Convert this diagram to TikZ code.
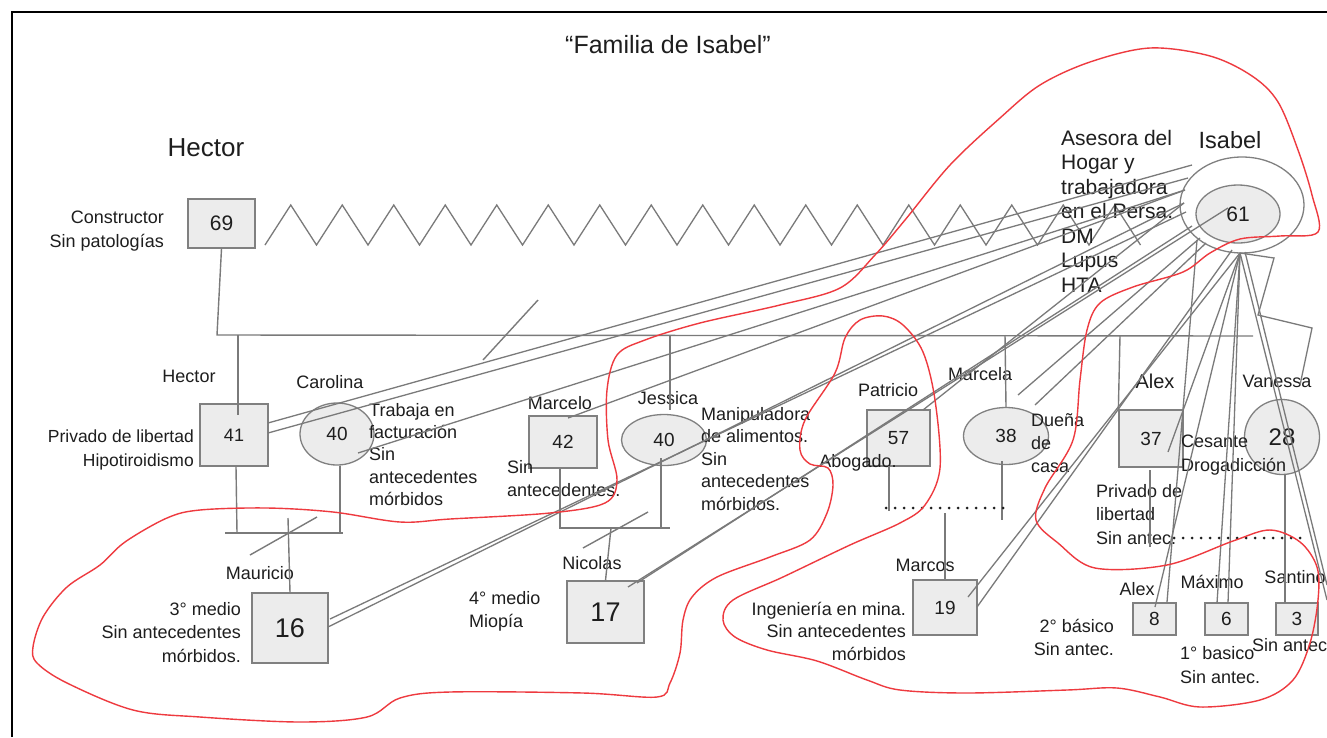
\documentclass[tikz,border=0pt]{standalone}
\usepackage{fontspec}
\setmainfont{Liberation Sans}
\usetikzlibrary{shapes.geometric}
\definecolor{lg}{HTML}{7A7A7A}
\definecolor{bg}{HTML}{808080}
\definecolor{bf}{HTML}{ECECEC}
\definecolor{tc}{HTML}{1E1E1E}
\definecolor{rc}{HTML}{EE3A3F}
\newcommand\myfs[2]{\fontsize{#1}{#2}\selectfont}
\begin{document}
\begin{tikzpicture}[x=1pt,y=-1pt,
  gl/.style={draw=lg,line width=1.3pt},
  sl/.style={draw=lg,line width=1.4pt},
  pbox/.style={draw=bg,fill=bf,line width=1.3pt,inner sep=0pt,text=tc,font=\myfs{19}{23}},
  pell/.style={pbox,ellipse},
  txt/.style={inner sep=0pt,text=tc,font=\myfs{18}{23}},
  dotl/.style={draw=tc,line width=3pt,dash pattern=on 0pt off 9pt,line cap=round},
  redl/.style={draw=rc,line width=1.4pt},
]
\useasboundingbox (0,0) rectangle (1327,737);
\fill[white] (0,0) rectangle (1327,737);
% frame
\draw[black,line width=2pt] (12,737) -- (12,12) -- (1327,12);

% zigzag (conflictive relation)
\draw[gl] (265,245) \foreach \k in {0,...,16}{ -- ({265+51.5*\k+25.75},205) -- ({265+51.5*(\k+1)},245)};

% ---------- persons ----------
\node[pbox,minimum width=67,minimum height=49,font=\myfs{21}{24}] (p69) at (221.5,223.5) {69};
\node[draw=bg,ellipse,line width=1.3pt,minimum width=124,minimum height=96] (iso) at (1242,205) {};
\node[pell,minimum width=84,minimum height=58,font=\myfs{21}{24}] (p61) at (1238,214) {61};
\node[pbox,minimum width=68,minimum height=62,font=\myfs{18}{23}] (p41) at (234,435) {41};
\node[pell,minimum width=74,minimum height=62] (p40c) at (337,434) {40};
\node[pbox,minimum width=76,minimum height=70,font=\myfs{27}{30}] (p16) at (290,628) {16};
\node[pbox,minimum width=68,minimum height=52] (p42) at (563,442) {42};
\node[pell,minimum width=85,minimum height=51] (p40j) at (664,440) {40};
\node[pbox,minimum width=77,minimum height=62,font=\myfs{27}{30}] (p17) at (605.5,612) {17};
\node[pbox,minimum width=63,minimum height=56] (p57) at (898.5,438) {57};
\node[pell,minimum width=85,minimum height=57] (p38) at (1006,436) {38};
\node[pbox,minimum width=64,minimum height=55] (p19) at (945,607.5) {19};
\node[pbox,minimum width=64,minimum height=57] (p37) at (1151,438.5) {37};
\node[pbox,circle,minimum size=75,font=\myfs{24}{28}] (p28) at (1282,437) {28};
\node[pbox,minimum width=43,minimum height=32] (p8) at (1154.5,619) {8};
\node[pbox,minimum width=43,minimum height=32] (p6) at (1226.5,619) {6};
\node[pbox,minimum width=42,minimum height=32] (p3) at (1297,619) {3};

% ---------- texts ----------
\node[txt,font=\myfs{25}{28}] (title) at (668,45) {“Familia de Isabel”};
\node[txt,font=\myfs{26}{30}] (hec) at (206,148) {Hector};
\node[txt,align=right,anchor=north east,font=\myfs{18}{24}] (t69) at (164,211) {Constructor\\Sin patologías};
\node[txt,font=\myfs{23.5}{28}] (isa) at (1230,140) {Isabel};
\node[txt,font=\myfs{21}{24.5},align=left,anchor=north west] (t61) at (1061,130) {Asesora del\\Hogar y\\trabajadora\\en el Persa.\\DM\\Lupus\\HTA};

\node[txt] (n41) at (189,376) {Hector};
\node[txt,align=right,anchor=north east,font=\myfs{17.5}{24}] (t41) at (194,430) {Privado de libertad\\Hipotiroidismo};
\node[txt] (ncar) at (330,382) {Carolina};
\node[txt,align=left,anchor=north west,font=\myfs{18}{22.3}] (tcar) at (369,403) {Trabaja en\\facturación\\Sin\\antecedentes\\mórbidos};
\node[txt] (nmau) at (260,573) {Mauricio};
\node[txt,align=right,anchor=north east,font=\myfs{18}{23.5}] (tmau) at (241,602) {3° medio\\Sin antecedentes\\mórbidos.};
\node[txt] (nmar) at (560,403) {Marcelo};
\node[txt,align=left,anchor=north west] (tmar) at (507,460) {Sin\\antecedentes.};
\node[txt] (njes) at (668,398) {Jessica};
\node[txt,align=left,anchor=north west,font=\myfs{18}{22.5}] (tjes) at (701,407) {Manipuladora\\de alimentos.\\Sin\\antecedentes\\mórbidos.};
\node[txt] (nnic) at (592,563) {Nicolas};
\node[txt,align=left,anchor=north west] (tnic) at (469,591) {4° medio\\Miopía};
\node[txt] (npat) at (888,390) {Patricio};
\node[txt] (tpat) at (858,463) {Abogado.};
\node[txt] (nmcl) at (980,374) {Marcela};
\node[txt,align=left,anchor=north west] (tmcl) at (1031,413) {Dueña\\de\\casa};
\node[txt] (nmcs) at (925,565) {Marcos};
\node[txt,align=right,anchor=north east,font=\myfs{18}{22.5}] (tmcs) at (906,602) {Ingeniería en mina.\\Sin antecedentes\\mórbidos};
\node[txt,font=\myfs{20}{24}] (nalx) at (1155,381) {Alex};
\node[txt,align=left,anchor=north west,font=\myfs{18}{24}] (talx1) at (1181,435) {Cesante\\Drogadicción};
\node[txt,align=left,anchor=north west,font=\myfs{18}{23.5}] (talx2) at (1096,484) {Privado de\\libertad\\Sin antec.};
\node[txt] (nvan) at (1277,381) {Vanessa};
\node[txt] (nal8) at (1137,589) {Alex};
\node[txt,align=right,anchor=north east] (tal8) at (1114,619) {2° básico\\Sin antec.};
\node[txt] (nmax) at (1212,582) {Máximo};
\node[txt,align=left,anchor=north west,font=\myfs{18}{24}] (tmax) at (1180,646) {1° basico\\Sin antec.};
\node[txt] (nsan) at (1295,577) {Santino};
\node[txt,anchor=west] (tsan) at (1252,645) {Sin antec};

% ---------- structural lines ----------
\coordinate (hc) at (217,335);
\coordinate (hr) at (1253,336);
\draw[sl] (p69.south) -- (hc) -- (hr);
\coordinate (d1t) at (238,335); \coordinate (d1b) at (238,415);
\coordinate (d2t) at (670,335); \coordinate (d2b) at (670,410);
\coordinate (d4t) at (1120,336);
\draw[sl] (d1t) -- (d1b);
\draw[sl] (d2t) -- (d2b);
\draw[sl] (1005,335) -- (p38.north);
\draw[sl] (d4t) -- (p37.north west);
\coordinate (sl1) at (483,360); \coordinate (sl2) at (538,300);
\draw[sl] (sl1) -- (sl2);

% Hector 41 - Carolina
\coordinate (m1a) at (237,533); \coordinate (m1b) at (340,533);
\coordinate (m1l) at (225,533); \coordinate (m1r) at (343,533);
\coordinate (m1c) at (288,518);
\draw[sl] (p41.south) ++(2,0) -- (m1a);
\draw[sl] (p40c.south) ++(3,0) -- (m1b);
\draw[sl] (m1l) -- (m1r);
\draw[sl] (m1c) -- (p16.north);
\coordinate (x1a) at (250,555); \coordinate (x1b) at (317,517);
\draw[sl] (x1a) -- (x1b);

% Marcelo - Jessica
\coordinate (m2a) at (560,528); \coordinate (m2b) at (670,528);
\coordinate (m2j) at (661,458); \coordinate (m2jb) at (661,528);
\coordinate (m2c) at (611,528);
\draw[sl] (p42.south) ++(-3,0) -- (m2a) -- (m2b);
\draw[sl] (m2j) -- (m2jb);
\draw[sl] (m2c) -- (p17.north);
\coordinate (x2a) at (583,548); \coordinate (x2b) at (648,512);
\draw[sl] (x2a) -- (x2b);

% Patricio - Marcela (dotted)
\coordinate (m3a) at (889,511); \coordinate (m3b) at (1002,520);
\coordinate (m3l) at (886,508); \coordinate (m3r) at (1008,508);
\coordinate (m3c) at (945,513);
\draw[sl] (889,466) -- (m3a);
\draw[sl] (1002,461) -- (m3b);
\draw[dotl] (m3l) -- (m3r);
\draw[sl] (m3c) -- (p19.north);

% Alex - Vanessa (dotted)
\coordinate (m4a) at (1150,547);
\coordinate (m4l) at (1174,538); \coordinate (m4r) at (1304,538);
\coordinate (m4v) at (1285,474); \coordinate (m4vb) at (1285,603);
\draw[sl] (1150,470) -- (m4a);
\draw[dotl] (m4l) -- (m4r);
\draw[sl] (m4v) -- (m4vb);

% ---------- relation lines from Isabel ----------
\coordinate (ia) at (1192,165);
\coordinate (ib) at (1188,178);
\coordinate (ic) at (1185,190);
\coordinate (id) at (1184,203);
\coordinate (ie) at (1186,212);
\coordinate (if) at (1228,208);
\coordinate (ig) at (1192,226);
\coordinate (ih) at (1200,238);
\coordinate (ii) at (1206,243);
\coordinate (ij) at (1197,240);
\coordinate (ik) at (1240,253);
\coordinate (il) at (1232,250);
\coordinate (im) at (1245,252);

\coordinate (e41a) at (268,423);
\coordinate (e41b) at (268,433);
\coordinate (e40c) at (358,453);
\coordinate (e42) at (568,418);
\coordinate (e16a) at (328,627);
\coordinate (e16b) at (330,619);
\coordinate (e17a) at (628,587);
\coordinate (e17b) at (637,583);
\coordinate (e57) at (923,410);
\coordinate (e38a) at (1018,395);
\coordinate (e38b) at (1035,405);
\coordinate (e19a) at (968,597);
\coordinate (e19b) at (977,607);
\coordinate (e37) at (1168,452);
\coordinate (e8a) at (1155,607);
\coordinate (e8b) at (1167,602);
\coordinate (e6a) at (1217,603);
\coordinate (e6b) at (1228,603);
\coordinate (er1) at (1327,600);
\coordinate (er2) at (1327,585);

\draw[gl] (ia) -- (e41a);
\draw[gl] (ib) -- (e41b);
\draw[gl] (ic) -- (e40c);
\draw[gl] (ic) -- (e42);
\draw[gl] (id) -- (e16a);
\draw[gl] (ie) -- (e16b);
\draw[gl] (if) -- (e17a);
\draw[gl] (ig) -- (e17b);
\draw[gl] (id) -- (e57);
\draw[gl] (ih) -- (e38a);
\draw[gl] (ii) -- (e38b);
\draw[gl] (ik) -- (e19a);
\draw[gl] (il) -- (e19b);
\draw[gl] (ik) -- (e37);
\draw[gl] (ik) -- (e8a);
\draw[gl] (ij) -- (e8b);
\draw[gl] (ik) -- (e6a);
\draw[gl] (ik) -- (e6b);
\draw[gl] (ik) -- (er1);
\draw[gl] (im) -- (er2);
\coordinate (v1) at (1274,258); \coordinate (v2) at (1258,315);
\coordinate (v3) at (1312,328); \coordinate (v4) at (1300,385);
\draw[gl] (ik) -- (v1) -- (v2) -- (v3) -- (v4);

% ---------- red boundary ----------
\draw[redl] plot[smooth cycle, tension=0.55] coordinates {
(1150,48) (1210,56) (1252,76) (1278,102) (1298,150) (1312,195) (1318,232)
(1280,236) (1240,239) (1210,253) (1183,272) (1133,287) (1100,303) (1087,330)
(1080,380) (1073,440) (1045,488) (1036,520) (1058,543) (1095,568) (1167,565)
(1233,541) (1270,530) (1300,542) (1317,567) (1318,600) (1310,643) (1293,680)
(1260,700) (1200,707) (1160,697) (1117,688) (1067,690) (967,693) (900,690)
(867,680) (817,661) (767,650) (735,637) (723,620) (733,600) (783,577)
(850,545) (900,523) (925,505) (940,468) (935,400) (923,352) (903,325)
(883,316) (860,320) (845,338) (835,373) (805,420) (800,450) (810,464)
(828,468) (833,485) (827,513) (810,540) (770,557) (717,577) (692,597)
(683,620) (680,653) (670,683) (657,697) (583,693) (450,692) (400,698)
(367,717) (300,722) (200,717) (133,710) (67,683) (37,663) (33,647)
(43,617) (67,587) (100,565) (125,542) (167,518) (200,510) (267,508)
(333,512) (400,522) (450,519) (550,513) (605,503) (617,480) (608,440)
(607,390) (617,355) (645,340) (700,323) (780,305) (840,288) (875,255)
(905,220) (950,165) (1000,118) (1040,85) (1090,62)};
\end{tikzpicture}
\end{document}
